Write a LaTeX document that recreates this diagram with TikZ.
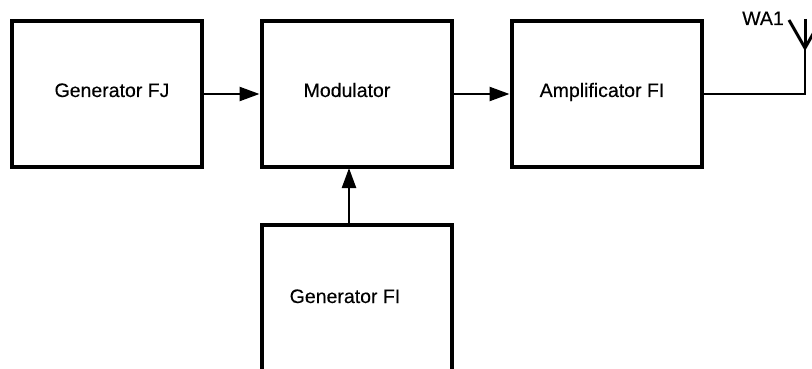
\documentclass[tikz,border=0pt]{standalone}
\usepackage{fontspec}
\setmainfont{Liberation Sans}
\newfontfamily\lblfont[FakeBold=0.25]{Liberation Sans}
\usetikzlibrary{arrows.meta}
\tikzset{
  blockbox/.style={draw=black,line width=4pt,fill=white,minimum width=190pt,minimum height=145pt,inner sep=0pt,anchor=north west},
  lbl/.style={font=\lblfont\fontsize{19.5}{22}\selectfont,inner sep=0pt,text=black,anchor=base},
  conn/.style={draw=black,line width=2.4pt},
  flow/.style={conn,-{Triangle[length=20pt,width=14pt]}},
  aerial/.style={draw=black,line width=3pt}
}
\begin{document}
\begin{tikzpicture}[x=1pt,y=-1pt]
\useasboundingbox (0,0) rectangle (812,369);
\begin{scope}
\clip (0,0) rectangle (812,369);
\node[blockbox] (fj) at (9.5,19.5) {};
\node[blockbox] (mod) at (259.5,19.5) {};
\node[blockbox] (amp) at (509.5,19.5) {};
\node[blockbox,minimum height=170pt] (fi) at (259.5,223) {};
\coordinate (ant) at (805,48);
\coordinate (antt) at (805,19);
\coordinate (antl) at (789,20);
\coordinate (antr) at (821,20);
\draw[aerial] (antl) -- (ant) -- (antr);
\draw[aerial] (antt) -- (ant);
\end{scope}
\node[lbl] (tfj) at (112,97) {Generator FJ};
\node[lbl] (tmod) at (347,97) {Modulator};
\node[lbl] (tamp) at (602,97) {Amplificator FI};
\node[lbl] (tfi) at (345,303) {Generator FI};
\node[lbl] (twa) at (763,25) {WA1};
\coordinate (m1) at (mod.west |- 0,94);
\coordinate (f1) at (fj.east |- 0,94);
\draw[flow] (f1) -- (m1);
\coordinate (m2) at (mod.east |- 0,94);
\coordinate (a2) at (amp.west |- 0,94);
\draw[flow] (m2) -- (a2);
\coordinate (m3) at (349,168);
\coordinate (f3) at (349,223);
\draw[flow] (f3) -- (m3);
\coordinate (a4) at (amp.east |- 0,94);
\draw[conn] (a4) -| (ant);
\end{tikzpicture}
\end{document}
